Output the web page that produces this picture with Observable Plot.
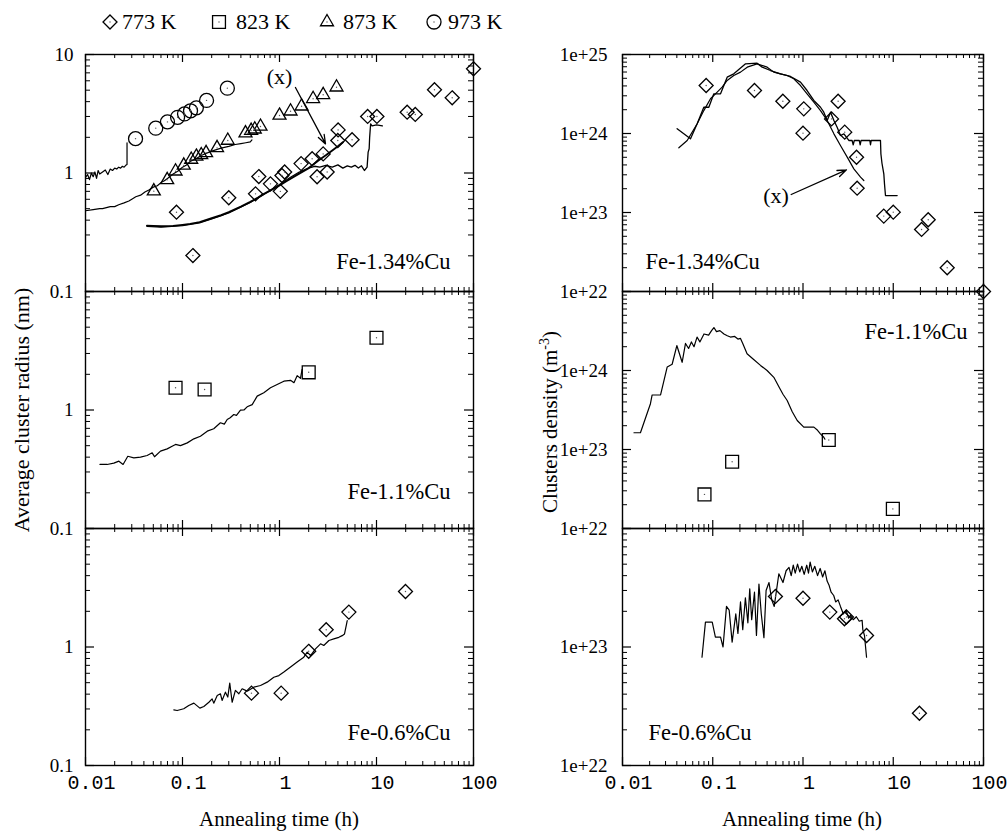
<!DOCTYPE html>
<html><head><meta charset="utf-8">
<script src="https://cdn.jsdelivr.net/npm/d3@7"></script>
<script src="https://cdn.jsdelivr.net/npm/@observablehq/plot@0.6"></script>
<style>
html,body{margin:0;padding:0;background:#fff;}
#wrap{position:relative;width:1008px;height:832px;overflow:hidden;background:#fff;}
</style></head><body><div id="wrap"></div>
<script>
// ---------- tick labels ----------
const xMajor = [0.01, 0.1, 1, 10, 100];
const xMajorLabels = ["0.01", "0.1", "1", "10", "100"];
const xMinor = [0.02,0.03,0.04,0.05,0.06,0.07,0.08,0.09,0.2,0.3,0.4,0.5,0.6,0.7,0.8,0.9,2,3,4,5,6,7,8,9,20,30,40,50,60,70,80,90];
const yMajorL = [0.1, 1, 10];
const yMinorL = [0.2,0.3,0.4,0.5,0.6,0.7,0.8,0.9,2,3,4,5,6,7,8,9];
const yMajorR = [1e22, 1e23, 1e24, 1e25];
const yMinorR = [2e22,3e22,4e22,5e22,6e22,7e22,8e22,9e22,2e23,3e23,4e23,5e23,6e23,7e23,8e23,9e23,2e24,3e24,4e24,5e24,6e24,7e24,8e24,9e24];
const yLabTopL = [10, 1, 0.1], yLabTopLText = ["10", "1", "0.1"];
const yLabL = [1, 0.1], yLabLText = ["1", "0.1"];
const yLabTopR = [1e25, 1e24, 1e23, 1e22], yLabTopRText = ["1e+25", "1e+24", "1e+23", "1e+22"];
const yLabMidR = [1e24, 1e23, 1e22], yLabMidRText = ["1e+24", "1e+23", "1e+22"];
const yLabBotR = [1e23, 1e22], yLabBotRText = ["1e+23", "1e+22"];
const legendLabels = ["773 K", "823 K", "873 K", "973 K"];
const alloys = ["Fe-1.34%Cu", "Fe-1.1%Cu", "Fe-0.6%Cu"];

// ---------- Fe-1.34%Cu radius (nm) ----------
const t134_773 = [0.0867,0.128,0.30,0.566,0.612,0.807,1.02,1.06,1.13,1.67,2.17,2.44,2.82,3.10,3.99,4.02,5.6,8.1,10.1,20.7,25.1,39.6,60.3,100];
const r134_773 = [0.467,0.201,0.618,0.667,0.933,0.81,0.70,0.953,1.02,1.20,1.32,0.93,1.45,1.02,1.88,2.31,1.91,3.0,3.0,3.26,3.12,5.04,4.31,7.57];
const t134_873 = [0.0506,0.0695,0.0848,0.103,0.123,0.139,0.156,0.175,0.227,0.293,0.446,0.51,0.556,0.637,1.0,1.30,1.69,2.22,2.82,3.87];
const r134_873 = [0.703,0.875,1.035,1.16,1.30,1.38,1.42,1.48,1.63,1.88,2.17,2.28,2.34,2.47,3.06,3.32,3.66,4.23,4.57,5.29];
const t134_973 = [0.0328,0.053,0.07,0.089,0.105,0.121,0.139,0.177,0.29];
const r134_973 = [1.95,2.39,2.7,2.95,3.15,3.35,3.55,4.1,5.2];
// simulations
const st134_973 = [0.01,0.0105,0.011,0.0115,0.012,0.0125,0.013,0.0135,0.014,0.015,0.016,0.017,0.018,0.019,0.02,0.021,0.022,0.023,0.024,0.025,0.026,0.0268,0.0268];
const sr134_973 = [0.92,0.97,0.88,1.0,0.93,1.02,0.9,1.05,0.98,1.02,1.06,0.97,1.08,1.05,1.1,1.08,1.12,1.1,1.14,1.12,1.16,1.18,1.8];
const st134_873 = [0.01,0.012,0.014,0.015,0.018,0.02,0.022,0.025,0.028,0.03,0.033,0.037,0.041,0.045,0.05,0.055,0.06,0.065,0.07,0.08,0.09,0.1,0.11,0.12,0.14,0.16,0.2,0.25,0.3,0.35,0.4,0.45,0.5,0.52];
const sr134_873 = [0.48,0.49,0.5,0.5,0.52,0.52,0.54,0.56,0.58,0.6,0.63,0.65,0.69,0.72,0.76,0.78,0.83,0.86,0.9,0.98,1.04,1.12,1.17,1.25,1.33,1.42,1.53,1.62,1.68,1.74,1.77,1.8,1.83,1.9];
const st134_773a = [0.043,0.05,0.06,0.07,0.08,0.1,0.12,0.15,0.2,0.25,0.3,0.4,0.5,0.6,0.7,0.8,1.0,1.2,1.5,2.0,2.5,3.0,3.5,4.0,4.5];
const sr134_773a = [0.36,0.358,0.355,0.356,0.358,0.365,0.372,0.385,0.415,0.44,0.467,0.52,0.57,0.62,0.67,0.71,0.785,0.86,0.96,1.1,1.27,1.41,1.55,1.68,1.82];
const st134_773b = [0.043,0.06,0.1,0.15,0.2,0.3,0.5,0.7,1.0,1.3,1.6,2.0,2.3,2.6,3.0,3.5,4.0,4.5,5,5.5,6,6.5,7,7.5,8,8.2,8.4,8.5,8.7,9,10,11.5];
const sr134_773b = [0.355,0.35,0.36,0.38,0.41,0.46,0.565,0.665,0.8,0.92,1.02,1.1,1.14,1.12,1.16,1.12,1.17,1.1,1.15,1.12,1.16,1.1,1.15,1.05,1.12,1.5,1.6,2.0,2.6,2.5,2.55,2.5];

// ---------- Fe-1.1%Cu radius ----------
const t11_823 = [0.0848,0.169,2.0,10];
const r11_823 = [1.54,1.49,2.08,4.07];
const st11 = [0.0141,0.0167,0.0196,0.0221,0.0244,0.0273,0.0315,0.0369,0.0432,0.0487,0.0515,0.0593,0.0695,0.0782,0.0847,0.0953,0.112,0.131,0.153,0.18,0.21,0.246,0.27,0.289,0.31,0.338,0.36,0.396,0.43,0.464,0.523,0.589,0.689,0.807,0.946,1.109,1.3,1.41,1.52,1.645,1.71];
const sr11 = [0.347,0.347,0.356,0.37,0.347,0.407,0.395,0.40,0.413,0.435,0.403,0.45,0.47,0.495,0.512,0.50,0.528,0.571,0.601,0.663,0.694,0.78,0.76,0.832,0.86,0.916,0.90,0.997,1.0,1.064,1.11,1.31,1.40,1.54,1.64,1.75,1.78,1.70,1.95,1.85,2.2];

// ---------- Fe-0.6%Cu radius ----------
const t06_773 = [0.514,1.04,2.0,3.03,5.19,19.9];
const r06_773 = [0.408,0.408,0.92,1.40,1.97,2.94];
const st06 = [0.0814,0.0881,0.103,0.116,0.131,0.151,0.166,0.187,0.202,0.21,0.228,0.246,0.256,0.277,0.293,0.307,0.325,0.351,0.381,0.412,0.464,0.543,0.637,0.746,0.874,0.985,1.109,1.3,1.52,1.78,1.93,2.09,2.35,2.65,2.86,3.23,3.63,4.09,4.43,4.68,4.91,4.99];
const sr06 = [0.295,0.291,0.301,0.321,0.336,0.305,0.315,0.342,0.365,0.336,0.39,0.403,0.354,0.416,0.378,0.495,0.342,0.43,0.403,0.444,0.424,0.458,0.473,0.505,0.556,0.574,0.614,0.678,0.747,0.821,0.904,0.847,0.964,1.064,1.03,1.135,1.17,1.207,1.247,1.288,1.56,1.67];

// ---------- Fe-1.34%Cu density (m^-3) ----------
const dt134_773 = [0.0845,0.29,0.598,1.02,1.0,2.07,2.45,2.9,3.92,3.98,7.85,10,20.6,24.4,39.6,100];
const dv134_773 = [4.05e24,3.5e24,2.56e24,2.05e24,1.01e24,1.53e24,2.56e24,1.04e24,5.0e23,2.03e23,9.0e22,1.01e23,6.1e22,8.1e22,2.0e22,1e22];
const sdt134a = [0.0421,0.0521,0.0672,0.0796,0.0944,0.112,0.127,0.1445,0.171,0.203,0.241,0.31,0.401,0.475,0.563,0.668,0.791,0.938,1.11,1.318,1.563,1.853,2.2,2.6,3.09,3.66,4.34,4.72];
const sdv134a = [6.59e23,8.16e23,1.33e24,1.95e24,2.75e24,3.34e24,3.86e24,4.69e24,5.42e24,5.98e24,6.91e24,7.62e24,6.91e24,5.98e24,5.69e24,5.42e24,4.92e24,4.05e24,3.18e24,2.49e24,1.95e24,1.46e24,9.9e23,7.05e23,5.02e23,3.57e23,2.8e23,2.54e23];
const sdt134b = [0.0403,0.0567,0.0672,0.0796,0.0905,0.1028,0.122,0.1445,0.171,0.231,0.31,0.353,0.436,0.563,0.727,0.938,1.11,1.318,1.563,1.7,1.853,2.02,2.2,2.39,2.6,2.84,3.22,3.5,3.6,3.7,4.2,4.3,4.4,5.5,5.6,5.7,7.22,7.3,7.5,7.86,8.0,8.2,11.05];
const sdv134b = [1.15e24,8.57e23,1.33e24,2.15e24,2.15e24,3.18e24,3.18e24,5.16e24,5.69e24,7.62e24,7.77e24,6.91e24,6.27e24,5.69e24,5.27e24,4.47e24,3.5e24,2.62e24,2.15e24,1.86e24,1.46e24,1.86e24,1.46e24,1.2e24,9.44e23,9.9e23,8.16e23,8.16e23,7.2e23,8.16e23,8.16e23,7.2e23,8.16e23,8.16e23,7.2e23,8.16e23,8.16e23,5.5e23,4.2e23,3.09e23,2.3e23,1.64e23,1.64e23];

// ---------- Fe-1.1%Cu density ----------
const dt11_823 = [0.081,0.164,1.93,9.9];
const dv11_823 = [2.7e22,7.0e22,1.32e23,1.77e22];
const sdt11 = [0.0134,0.0158,0.0204,0.0213,0.0264,0.0313,0.0355,0.040,0.0458,0.0499,0.054,0.058,0.062,0.067,0.072,0.08,0.09,0.097,0.103,0.11,0.12,0.133,0.145,0.157,0.175,0.19,0.203,0.215,0.24,0.28,0.338,0.4,0.475,0.55,0.6,0.668,0.76,0.863,1.02,1.32,1.45,1.56,1.7,1.75];
const sdv11 = [1.63e23,1.63e23,3.8e23,4.9e23,4.9e23,1.11e24,1.2e24,2.07e24,1.27e24,2.2e24,1.9e24,2.3e24,2.0e24,2.65e24,2.3e24,2.9e24,2.8e24,3.2e24,3.5e24,3.1e24,3.2e24,2.9e24,2.75e24,2.65e24,2.7e24,2.5e24,2.55e24,2.2e24,1.63e24,1.4e24,1.16e24,1.0e24,8.2e23,6.0e23,5.0e23,4.17e23,3.0e23,2.33e23,1.92e23,1.92e23,1.75e23,1.58e23,1.43e23,1.35e23];

// ---------- Fe-0.6%Cu density ----------
const dt06_773 = [0.495,1.0,1.98,2.88,3.03,5.06,19.5];
const dv06_773 = [2.67e23,2.58e23,1.97e23,1.73e23,1.79e23,1.25e23,2.76e22];
const sdt06 = [0.076,0.083,0.0987,0.107,0.122,0.13,0.142,0.152,0.164,0.18,0.19,0.203,0.215,0.23,0.245,0.257,0.27,0.29,0.305,0.325,0.345,0.369,0.39,0.42,0.45,0.48,0.54,0.6,0.65,0.7,0.74,0.78,0.82,0.87,0.92,0.97,1.03,1.1,1.15,1.2,1.27,1.35,1.45,1.55,1.65,1.75,1.85,1.95,2.05,2.19,2.3,2.45,2.6,2.8,3.0,3.2,3.36,3.6,3.9,4.2,4.52,4.6,4.8,5.06];
const sdv06 = [8.2e22,1.62e23,1.62e23,1.21e23,1.21e23,1.0e23,2.2e23,2.05e23,1.1e23,1.9e23,1.3e23,2.4e23,1.4e23,2.6e23,1.6e23,3.1e23,1.7e23,2.9e23,1.25e23,3.4e23,1.9e23,1.2e23,3.0e23,3.5e23,2.5e23,2.2e23,4.15e23,3.5e23,4.4e23,4.7e23,4.0e23,4.9e23,4.2e23,5.0e23,4.3e23,4.8e23,4.1e23,4.9e23,4.2e23,5.2e23,4.3e23,4.8e23,4.0e23,4.6e23,3.9e23,4.4e23,3.6e23,3.3e23,2.9e23,2.72e23,2.4e23,2.5e23,2.2e23,1.9e23,2.05e23,1.75e23,1.85e23,1.7e23,1.8e23,1.65e23,1.68e23,1.4e23,1.25e23,8.2e22];

// ---------- annotations ----------
const annotL = [{tx: 1.0, ty: 6.5, x1: 1.46, y1: 5.27, x2: 2.98, y2: 1.76, label: "(x)"}];
const annotR = [{tx: 0.502, ty: 1.64e23, x1: 0.74, y1: 1.69e23, x2: 3.03, y2: 3.47e23, label: "(x)"}];

// ---------- helpers ----------
const SERIF = "Liberation Serif, Times New Roman, serif";
const MONO = "Liberation Mono, DejaVu Sans Mono, monospace";
const wrap = document.getElementById("wrap");
const pts = (t, v) => t.map((x, i) => ({t: x, v: v[i]}));
const SYM = {diamond: d3.symbolDiamond2, square: d3.symbolSquare2, triangle: d3.symbolTriangle2, circle: d3.symbolCircle};
const SYMR = {diamond: 6.3, square: 8.2, triangle: 6.2, circle: 7};

function dots(t, v, kind) {
  const d = pts(t, v);
  return [
    Plot.dot(d, {x: "t", y: "v", symbol: SYM[kind], r: SYMR[kind], stroke: "black", strokeWidth: 1.3, fill: "none"}),
    Plot.dot(d, {x: "t", y: "v", r: 0.7, fill: "#555", stroke: "none"})
  ];
}
function line(t, v, sw = 1.2) {
  return Plot.line(pts(t, v), {x: "t", y: "v", stroke: "black", strokeWidth: sw, strokeLinejoin: "round"});
}
function annot(a) {
  return [
    Plot.arrow(a, {x1: "x1", y1: "y1", x2: "x2", y2: "y2", stroke: "black", strokeWidth: 1.3, headLength: 11, headAngle: 40}),
    Plot.text(a, {x: "tx", y: "ty", text: "label", fontSize: 22, fontFamily: SERIF})
  ];
}

function panel(o) {
  const mL = 90, mR = 30, mT = 20, mB = o.showX ? 50 : 20;
  const w = o.w, h = o.h;
  const marks = [
    Plot.tickX(xMinor, {x: d => d, insetBottom: h - 4, strokeWidth: 1}),
    Plot.tickX(xMinor, {x: d => d, insetTop: h - 4, strokeWidth: 1}),
    Plot.tickX(xMajor, {x: d => d, insetBottom: h - 8, strokeWidth: 1.2}),
    Plot.tickX(xMajor, {x: d => d, insetTop: h - 8, strokeWidth: 1.2}),
    Plot.tickY(o.yMinor, {y: d => d, insetRight: w - 5, strokeWidth: 1}),
    Plot.tickY(o.yMinor, {y: d => d, insetLeft: w - 5, strokeWidth: 1}),
    Plot.tickY(o.yMajor, {y: d => d, insetRight: w - 9, strokeWidth: 1.2}),
    Plot.tickY(o.yMajor, {y: d => d, insetLeft: w - 9, strokeWidth: 1.2}),
    Plot.text(o.yLab, {y: d => d, text: o.yLabText, frameAnchor: "left", textAnchor: "end", dx: o.labDx, fontSize: 19, fontFamily: SERIF}),
    Plot.text([o.name], {text: d => d, frameAnchor: o.nameAnchor, textAnchor: o.nameTA, lineAnchor: "bottom", dx: o.ndx, dy: o.ndy, fontSize: 22.5, fontFamily: SERIF}),
    ...o.marks,
    Plot.frame({stroke: "black", strokeWidth: 1.4})
  ];
  if (o.showX) marks.push(Plot.text(xMajor, {x: d => d, text: xMajorLabels, frameAnchor: "bottom", dy: 23, dx: 6, fontSize: 20, fontFamily: MONO}));
  const p = Plot.plot({
    width: w + mL + mR, height: h + mT + mB,
    marginLeft: mL, marginRight: mR, marginTop: mT, marginBottom: mB,
    x: {type: "log", domain: [0.01, 100], axis: null},
    y: {type: "log", domain: o.yDomain, axis: null},
    style: {background: "transparent", overflow: "visible", fontFamily: SERIF, color: "black"},
    marks
  });
  p.style.position = "absolute";
  p.style.left = (o.left - mL) + "px";
  p.style.top = (o.top - mT) + "px";
  p.style.maxWidth = "none";
  wrap.appendChild(p);
}

const LX = 85, LW = 388, RX = 622, RW = 361, H = 237, ROWS = [54, 291, 528];

// left column
panel({left: LX, top: ROWS[0], w: LW, h: H, yDomain: [0.1, 10], yMajor: yMajorL, yMinor: yMinorL, yLab: yLabTopL, yLabText: yLabTopLText, labDx: -12,
  name: alloys[0], nameAnchor: "bottom-right", nameTA: "end", ndx: -23, ndy: -23,
  marks: [line(st134_973, sr134_973), line(st134_873, sr134_873), line(st134_773b, sr134_773b, 1.3), line(st134_773a, sr134_773a, 1.9),
    ...dots(t134_773, r134_773, "diamond"), ...dots(t134_873, r134_873, "triangle"), ...dots(t134_973, r134_973, "circle"), ...annot(annotL)]});
panel({left: LX, top: ROWS[1], w: LW, h: H, yDomain: [0.1, 10], yMajor: yMajorL, yMinor: yMinorL, yLab: yLabL, yLabText: yLabLText, labDx: -12,
  name: alloys[1], nameAnchor: "bottom-right", nameTA: "end", ndx: -23, ndy: -30,
  marks: [line(st11, sr11), ...dots(t11_823, r11_823, "square")]});
panel({left: LX, top: ROWS[2], w: LW, h: H, yDomain: [0.1, 10], yMajor: yMajorL, yMinor: yMinorL, yLab: yLabL, yLabText: yLabLText, labDx: -12, showX: true,
  name: alloys[2], nameAnchor: "bottom-right", nameTA: "end", ndx: -23, ndy: -26,
  marks: [line(st06, sr06), ...dots(t06_773, r06_773, "diamond")]});

// right column
panel({left: RX, top: ROWS[0], w: RW, h: H, yDomain: [1e22, 1e25], yMajor: yMajorR, yMinor: yMinorR, yLab: yLabTopR, yLabText: yLabTopRText, labDx: -15,
  name: alloys[0], nameAnchor: "bottom-left", nameTA: "start", ndx: 23, ndy: -23,
  marks: [line(sdt134b, sdv134b, 1.3), line(sdt134a, sdv134a, 1.2), ...dots(dt134_773, dv134_773, "diamond"), ...annot(annotR)]});
panel({left: RX, top: ROWS[1], w: RW, h: H, yDomain: [1e22, 1e25], yMajor: yMajorR, yMinor: yMinorR, yLab: yLabMidR, yLabText: yLabMidRText, labDx: -15,
  name: alloys[1], nameAnchor: "top-right", nameTA: "end", ndx: -16, ndy: 47,
  marks: [line(sdt11, sdv11), ...dots(dt11_823, dv11_823, "square")]});
panel({left: RX, top: ROWS[2], w: RW, h: H, yDomain: [1e22, 1e24], yMajor: yMajorR.slice(0, 3), yMinor: yMinorR.slice(0, 16), yLab: yLabBotR, yLabText: yLabBotRText, labDx: -15, showX: true,
  name: alloys[2], nameAnchor: "bottom-left", nameTA: "start", ndx: 26, ndy: -26,
  marks: [line(sdt06, sdv06), ...dots(dt06_773, dv06_773, "diamond")]});

// ---------- overlay: legend and axis titles ----------
const ov = d3.select(wrap).append("svg").attr("width", 1008).attr("height", 832)
  .style("position", "absolute").style("left", "0px").style("top", "0px").style("overflow", "visible");
const legKinds = ["diamond", "square", "triangle", "circle"];
const legSymX = [110, 219, 327, 434];
const legTextX = [122, 236, 343, 448];
legKinds.forEach((k, i) => {
  ov.append("path").attr("transform", `translate(${legSymX[i]},22)`)
    .attr("d", d3.symbol(SYM[k], Math.PI * SYMR[k] * SYMR[k])())
    .attr("fill", "none").attr("stroke", "black").attr("stroke-width", 1.3);
  ov.append("circle").attr("cx", legSymX[i]).attr("cy", 22).attr("r", 0.7).attr("fill", "#555");
  ov.append("text").attr("x", legTextX[i]).attr("y", 29).attr("font-family", SERIF).attr("font-size", 22).text(legendLabels[i]);
});
ov.append("text").attr("transform", "translate(29,410) rotate(-90)").attr("text-anchor", "middle")
  .attr("font-family", SERIF).attr("font-size", 22).text("Average cluster radius (nm)");
const rt = ov.append("text").attr("transform", "translate(557,422) rotate(-90)").attr("text-anchor", "middle")
  .attr("font-family", SERIF).attr("font-size", 21);
rt.append("tspan").text("Clusters density (m");
rt.append("tspan").attr("font-size", 14).attr("dy", -8).text("-3");
rt.append("tspan").attr("dy", 8).text(")");
ov.append("text").attr("x", 279).attr("y", 826).attr("text-anchor", "middle").attr("font-family", SERIF).attr("font-size", 21).text("Annealing time (h)");
ov.append("text").attr("x", 802).attr("y", 826).attr("text-anchor", "middle").attr("font-family", SERIF).attr("font-size", 21).text("Annealing time (h)");
</script></body></html>
